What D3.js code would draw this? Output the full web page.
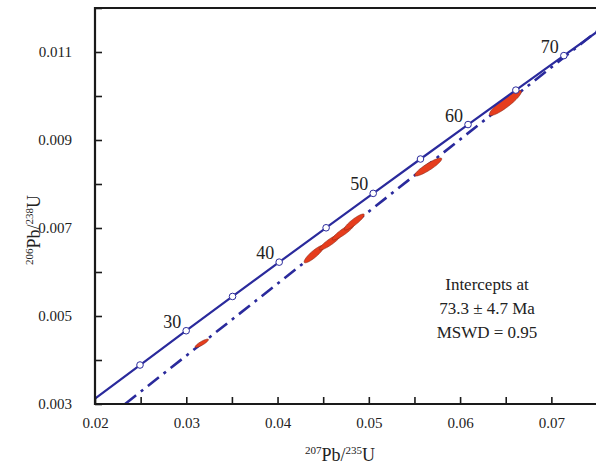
<!DOCTYPE html>
<html>
<head>
<meta charset="utf-8">
<script src="https://cdn.jsdelivr.net/npm/d3@7"></script>
<style>
body { margin: 0; background: #fff; }
svg text { font-family: "Times New Roman", "Liberation Serif", Times, serif; fill: #222; }
</style>
</head>
<body>
<svg id="chart"></svg>
<script>
// concordia age marks (Ma) and their 207Pb/235U, 206Pb/238U positions
var ages = [25, 30, 35, 40, 45, 50, 55, 60, 65, 70];
var agesX = [0.02493, 0.02999, 0.03507, 0.04018, 0.04532, 0.05048, 0.05566, 0.06087, 0.06611, 0.07137];
var agesY = [0.003886, 0.004665, 0.005444, 0.006224, 0.007005, 0.007787, 0.008568, 0.009351, 0.010134, 0.010918];
var labelAges = [30, 40, 50, 60, 70];

// concordia ends at the plot edges
var concStart = [0.0200, 0.003124];
var concEnd = [0.0750, 0.011456];

// discordia (dash-dot) ends
var discStart = [0.0233, 0.0030];
var discEnd = [0.0750, 0.01147];

// analyses: centres, 2-sigma half widths, error correlation
var ellX = [0.03170, 0.04401, 0.04577, 0.04719, 0.04840, 0.05651, 0.06496];
var ellY = [0.004380, 0.006409, 0.006682, 0.006909, 0.007136, 0.008386, 0.009840];
var ellXErr = [0.00073, 0.00110, 0.00120, 0.00120, 0.00110, 0.00148, 0.00175];
var ellYErr = [0.000095, 0.000200, 0.000182, 0.000182, 0.000182, 0.000205, 0.000284];
var ellRho = [0.86, 0.88, 0.90, 0.90, 0.89, 0.90, 0.90];

var xTicks = [0.02, 0.025, 0.03, 0.035, 0.04, 0.045, 0.05, 0.055, 0.06, 0.065, 0.07, 0.075];
var yTicks = [0.003, 0.004, 0.005, 0.006, 0.007, 0.008, 0.009, 0.010, 0.011, 0.012];
var xLabels = [0.02, 0.03, 0.04, 0.05, 0.06, 0.07];
var yLabels = [0.003, 0.005, 0.007, 0.009, 0.011];
var infoLines = ["Intercepts at", "73.3 \u00b1 4.7 Ma", "MSWD = 0.95"];

var width = 596, height = 467;
var svg = d3.select("#chart").attr("width", width).attr("height", height);

var x = d3.scaleLinear().domain([0.02, 0.075]).range([95, 597]);
var y = d3.scaleLinear().domain([0.003, 0.012]).range([404, 8]);

var blue = "#2a2a9c";
var serif = "'Times New Roman', 'Liberation Serif', Times, serif";

svg.append("clipPath").attr("id", "plot")
    .append("rect").attr("x", 95).attr("y", 8).attr("width", 502).attr("height", 396);

var plot = svg.append("g").attr("clip-path", "url(#plot)");

// discordia
plot.append("line")
    .attr("x1", x(discStart[0])).attr("y1", y(discStart[1]))
    .attr("x2", x(discEnd[0])).attr("y2", y(discEnd[1]))
    .attr("stroke", blue)
    .attr("stroke-width", 2.6)
    .attr("stroke-dasharray", "14,6,3,6");

// ellipses
var ellData = ellX.map(function(d, i) {
    return d3.range(0, 361, 6).map(function(a) {
        var t = a * Math.PI / 180;
        var px = ellX[i] + ellXErr[i] * Math.cos(t);
        var py = ellY[i] + ellYErr[i] * (ellRho[i] * Math.cos(t) + Math.sqrt(1 - ellRho[i] * ellRho[i]) * Math.sin(t));
        return [px, py];
    });
});

plot.selectAll("path.ell")
    .data(ellData)
    .enter()
    .append("path")
    .attr("class", "ell")
    .attr("d", d3.line().x(function(d) { return x(d[0]); }).y(function(d) { return y(d[1]); }).curve(d3.curveLinearClosed))
    .attr("fill", "#e63d1d")
    .attr("stroke", "#8a2a1a")
    .attr("stroke-width", 0.6);

// concordia
var concPts = [concStart].concat(agesX.map(function(d, i) { return [d, agesY[i]]; })).concat([concEnd]);
plot.append("path")
    .datum(concPts)
    .attr("d", d3.line().x(function(d) { return x(d[0]); }).y(function(d) { return y(d[1]); }).curve(d3.curveMonotoneX))
    .attr("fill", "none")
    .attr("stroke", blue)
    .attr("stroke-width", 2.2);

plot.selectAll("circle.age")
    .data(ages)
    .enter()
    .append("circle")
    .attr("class", "age")
    .attr("cx", function(d, i) { return x(agesX[i]); })
    .attr("cy", function(d, i) { return y(agesY[i]); })
    .attr("r", 3.3)
    .attr("fill", "#fff")
    .attr("stroke", blue)
    .attr("stroke-width", 1);

svg.selectAll("text.age")
    .data(labelAges)
    .enter()
    .append("text")
    .attr("class", "age")
    .attr("x", function(d) { var i = ages.indexOf(d); return x(agesX[i]) - 5; })
    .attr("y", function(d) { var i = ages.indexOf(d); return y(agesY[i]) - 3; })
    .attr("text-anchor", "end")
    .attr("font-size", 18)
    .text(function(d) { return d; });

// axes
var xAxis = d3.axisBottom(x).tickValues(xTicks).tickSize(-7).tickPadding(13)
    .tickFormat(function(d) { return xLabels.some(function(v) { return Math.abs(v - d) < 1e-9; }) ? d3.format(".2f")(d) : ""; });
var gx = svg.append("g").attr("transform", "translate(0,404)").call(xAxis);
gx.select(".domain").remove();
gx.selectAll("line").attr("stroke", "#1a1a1a").attr("stroke-width", 1.6);
gx.selectAll("text").attr("font-size", 15).attr("font-family", serif).attr("fill", "#222");

var yAxis = d3.axisLeft(y).tickValues(yTicks).tickSize(-7).tickPadding(23)
    .tickFormat(function(d) { return yLabels.some(function(v) { return Math.abs(v - d) < 1e-9; }) ? d3.format(".3f")(d) : ""; });
var gy = svg.append("g").attr("transform", "translate(95,0)").call(yAxis);
gy.select(".domain").remove();
gy.selectAll("line").attr("stroke", "#1a1a1a").attr("stroke-width", 1.6);
gy.selectAll("text").attr("font-size", 15).attr("font-family", serif).attr("fill", "#222");

// frame
svg.append("path")
    .attr("d", "M598,8H95V404H598")
    .attr("fill", "none")
    .attr("stroke", "#1a1a1a")
    .attr("stroke-width", 2.2);

// axis titles
var xt = svg.append("text").attr("x", 340).attr("y", 461).attr("text-anchor", "middle").attr("font-size", 18);
xt.append("tspan").attr("font-size", 11).attr("dy", -7).text("207");
xt.append("tspan").attr("dy", 7).text("Pb/");
xt.append("tspan").attr("font-size", 11).attr("dy", -7).text("235");
xt.append("tspan").attr("dy", 7).text("U");

var yt = svg.append("text").attr("transform", "translate(40,230) rotate(-90)").attr("text-anchor", "middle").attr("font-size", 18);
yt.append("tspan").attr("font-size", 11).attr("dy", -7).text("206");
yt.append("tspan").attr("dy", 7).text("Pb/");
yt.append("tspan").attr("font-size", 11).attr("dy", -7).text("238");
yt.append("tspan").attr("dy", 7).text("U");

svg.selectAll("text.info")
    .data(infoLines)
    .enter()
    .append("text")
    .attr("class", "info")
    .attr("x", 487)
    .attr("y", function(d, i) { return 290 + i * 24; })
    .attr("text-anchor", "middle")
    .attr("font-size", 17)
    .text(function(d) { return d; });
</script>
</body>
</html>
